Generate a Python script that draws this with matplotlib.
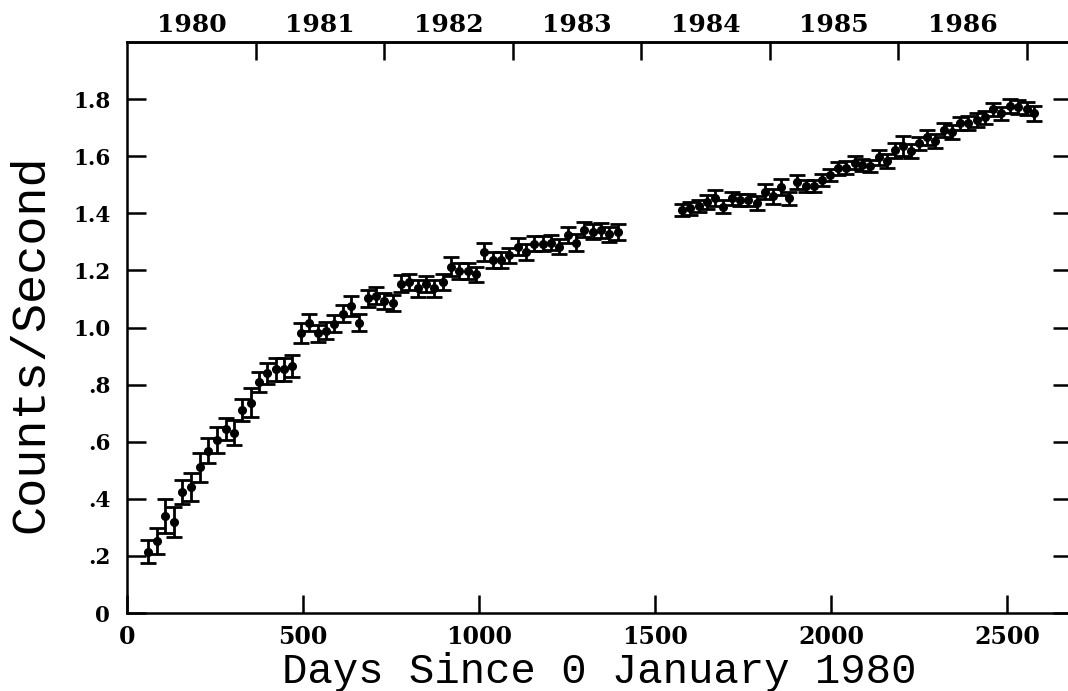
import matplotlib
matplotlib.use("Agg")
import matplotlib.pyplot as plt

# first observing stretch (1980 - 1983)
days_a = [61, 84, 108, 133, 157, 182, 207, 231, 255, 280, 304, 328, 351, 375,
          399, 422, 446, 470, 494, 518, 542, 565, 589, 613, 636, 660, 684, 707,
          731, 755, 778, 802, 826, 849, 873, 897, 920, 944, 968, 991, 1015,
          1039, 1063, 1086, 1110, 1134, 1157, 1181, 1205, 1228, 1252, 1276,
          1299, 1323, 1347, 1370, 1394]
rate_a = [0.215, 0.252, 0.341, 0.318, 0.425, 0.442, 0.510, 0.568, 0.606,
          0.644, 0.631, 0.711, 0.736, 0.808, 0.839, 0.853, 0.854, 0.865,
          0.981, 1.016, 0.979, 0.988, 1.014, 1.049, 1.075, 1.016, 1.102,
          1.111, 1.092, 1.087, 1.154, 1.160, 1.137, 1.154, 1.137, 1.160,
          1.213, 1.199, 1.199, 1.187, 1.265, 1.238, 1.236, 1.253, 1.283,
          1.265, 1.294, 1.294, 1.297, 1.283, 1.324, 1.297, 1.343, 1.335,
          1.341, 1.326, 1.335]
err_a = [0.039, 0.047, 0.060, 0.053, 0.042, 0.050, 0.051, 0.044, 0.045,
         0.038, 0.044, 0.039, 0.051, 0.035, 0.038, 0.039, 0.040, 0.038,
         0.035, 0.030, 0.030, 0.030, 0.030, 0.030, 0.035, 0.030, 0.030,
         0.030, 0.028, 0.028, 0.030, 0.028, 0.030, 0.028, 0.030, 0.028,
         0.033, 0.028, 0.028, 0.026, 0.032, 0.028, 0.028, 0.026, 0.030,
         0.028, 0.026, 0.026, 0.026, 0.026, 0.028, 0.030, 0.026, 0.026,
         0.026, 0.026, 0.028]

# second stretch (1984 - 1986)
days_b = [1578, 1601, 1625, 1649, 1672, 1694, 1718, 1741, 1765, 1789, 1812,
          1836, 1859, 1880, 1904, 1928, 1951, 1975, 1997, 2020, 2044, 2068,
          2089, 2112, 2136, 2159, 2183, 2205, 2227, 2250, 2273, 2297, 2321,
          2344, 2366, 2390, 2414, 2437, 2461, 2484, 2508, 2532, 2556, 2577]
rate_b = [1.411, 1.417, 1.425, 1.440, 1.452, 1.423, 1.452, 1.446, 1.446,
          1.437, 1.475, 1.460, 1.493, 1.452, 1.510, 1.495, 1.495, 1.516,
          1.534, 1.557, 1.560, 1.577, 1.569, 1.565, 1.596, 1.583, 1.621,
          1.635, 1.619, 1.645, 1.666, 1.653, 1.691, 1.685, 1.715, 1.717,
          1.726, 1.736, 1.764, 1.750, 1.775, 1.773, 1.767, 1.750]
err_b = [0.022, 0.022, 0.022, 0.024, 0.028, 0.022, 0.022, 0.022, 0.022,
         0.024, 0.026, 0.026, 0.028, 0.022, 0.024, 0.022, 0.022, 0.022,
         0.022, 0.024, 0.022, 0.022, 0.022, 0.022, 0.026, 0.026, 0.026,
         0.036, 0.024, 0.024, 0.026, 0.026, 0.024, 0.024, 0.024, 0.024,
         0.024, 0.024, 0.024, 0.024, 0.024, 0.024, 0.024, 0.026]

x_ticks = [0, 500, 1000, 1500, 2000, 2500]
y_ticks = [0, 0.2, 0.4, 0.6, 0.8, 1.0, 1.2, 1.4, 1.6, 1.8]
y_labels = ["0", ".2", ".4", ".6", ".8", "1.0", "1.2", "1.4", "1.6", "1.8"]
year_starts = [366, 731, 1096, 1461, 1827, 2192, 2557]
year_mids = [183, 548, 913, 1278, 1644, 2009, 2374]
years = ["1980", "1981", "1982", "1983", "1984", "1985", "1986"]

tick_font = {"family": "DejaVu Serif", "weight": "bold"}
label_font = "Liberation Mono"

fig = plt.figure(figsize=(10.68, 6.91), dpi=100)
ax = fig.add_axes([127 / 1068, 78 / 691, 945 / 1068, 571 / 691])

for d, r, e in [(days_a, rate_a, err_a), (days_b, rate_b, err_b)]:
    ax.errorbar(d, r, yerr=e, fmt="o", color="black", ms=5.5,
                elinewidth=2, capsize=5.5, capthick=2)

ax.set_xlim(0, 2685)
ax.set_ylim(0, 2.0)

for s in ax.spines.values():
    s.set_linewidth(1.8)

ax.set_xticks(x_ticks)
ax.set_xticklabels([str(t) for t in x_ticks], fontsize=17, **tick_font)
ax.set_yticks(y_ticks)
ax.set_yticklabels(y_labels, fontsize=15.5, **tick_font)
ax.tick_params(axis="x", direction="in", length=13, width=1.8, pad=8.5)
ax.tick_params(axis="y", direction="in", length=14, width=1.8, pad=12,
               right=True)

top = ax.secondary_xaxis("top")
top.set_xticks(year_starts, labels=[""] * len(year_starts))
top.set_xticks(year_mids, labels=years, minor=True)
top.tick_params(axis="x", which="major", direction="in", length=13, width=1.8)
top.tick_params(axis="x", which="minor", length=0, pad=3.5)
for t in top.get_xticklabels(minor=True):
    t.set_fontsize(18)
    t.set_fontfamily("DejaVu Serif")
    t.set_fontweight("bold")
top.spines["top"].set_linewidth(1.8)

ax.set_xlabel("Days Since 0 January 1980", fontsize=30.5, family=label_font)
ax.xaxis.label.set_va("baseline")
ax.xaxis.set_label_coords(0.5, -0.1226)
ax.set_ylabel("Counts/Second", fontsize=35, family=label_font)
ax.yaxis.label.set_va("baseline")
ax.yaxis.set_label_coords(-0.0889, 0.472)

fig.savefig("out.png", dpi=100)
